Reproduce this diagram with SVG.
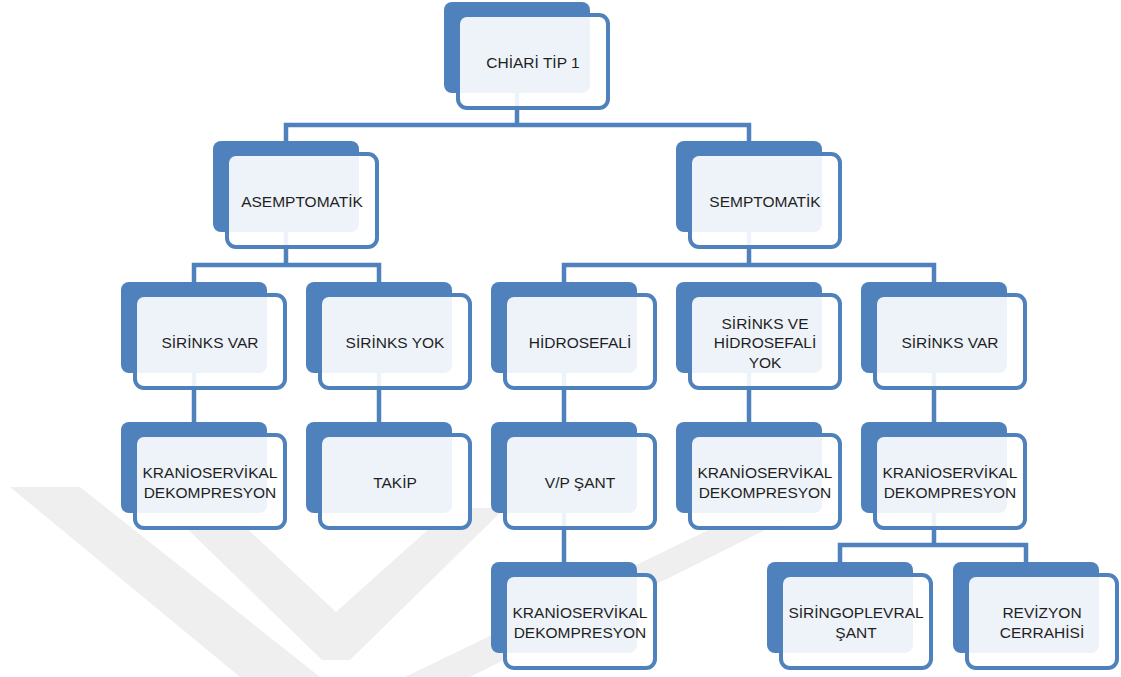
<svg xmlns="http://www.w3.org/2000/svg" width="1121" height="677" viewBox="0 0 1121 677">
<style>
.bk{fill:#4F81BD}
.fr{fill:#ffffff;fill-opacity:0.9;stroke:#4F81BD;stroke-width:4}
.t{font-family:"Liberation Sans",Arial,sans-serif;font-size:15.5px;fill:#1f1f1f;text-anchor:middle;dominant-baseline:central}
.c{fill:none;stroke:#4F81BD;stroke-width:4.5;stroke-linejoin:miter}
.wm{fill:#efefef}
</style>
<rect width="1121" height="677" fill="#ffffff"/>
<g id="watermark">
<polygon class="wm" points="10,487 80,487 320,677 240,677"/>
<polygon class="wm" points="178,520 238,520 336,612 452,508 505,508 350,660 322,660"/>
<polygon class="wm" points="405,677 470,677 815,505 760,505"/>
</g>
<g id="connectors">
<path class="c" d="M517,93 V125 M286,141 V125 H749 V141"/>
<path class="c" d="M286,232 V265 M194,282 V265 H379 V282"/>
<path class="c" d="M749,232 V265 M564,282 V265 H934 V282"/>
<path class="c" d="M194,373 V422 M379,373 V422 M564,373 V422 M749,373 V422 M934,373 V422"/>
<path class="c" d="M564,513 V562"/>
<path class="c" d="M934,513 V545 M840,562 V545 H1026 V562"/>
</g>
<g id="n-chiari"><rect class="bk" x="444" y="2" width="146" height="91" rx="8"/><rect class="fr" x="458" y="15" width="150" height="93" rx="9"/><text class="t" x="533" y="62">CHİARİ TİP 1</text></g>
<g id="n-asemptomatik"><rect class="bk" x="213" y="141" width="146" height="91" rx="8"/><rect class="fr" x="227" y="154" width="150" height="93" rx="9"/><text class="t" x="302" y="201">ASEMPTOMATİK</text></g>
<g id="n-semptomatik"><rect class="bk" x="676" y="141" width="146" height="91" rx="8"/><rect class="fr" x="690" y="154" width="150" height="93" rx="9"/><text class="t" x="765" y="201">SEMPTOMATİK</text></g>
<g id="n-sirinks-var-1"><rect class="bk" x="121" y="282" width="146" height="91" rx="8"/><rect class="fr" x="135" y="295" width="150" height="93" rx="9"/><text class="t" x="210" y="342">SİRİNKS VAR</text></g>
<g id="n-sirinks-yok"><rect class="bk" x="306" y="282" width="146" height="91" rx="8"/><rect class="fr" x="320" y="295" width="150" height="93" rx="9"/><text class="t" x="395" y="342">SİRİNKS YOK</text></g>
<g id="n-hidrosefali"><rect class="bk" x="491" y="282" width="146" height="91" rx="8"/><rect class="fr" x="505" y="295" width="150" height="93" rx="9"/><text class="t" x="580" y="342">HİDROSEFALİ</text></g>
<g id="n-sirinks-ve-hidrosefali-yok"><rect class="bk" x="676" y="282" width="146" height="91" rx="8"/><rect class="fr" x="690" y="295" width="150" height="93" rx="9"/><text class="t" x="765" y="323">SİRİNKS VE</text><text class="t" x="765" y="342.5">HİDROSEFALİ</text><text class="t" x="765" y="362">YOK</text></g>
<g id="n-sirinks-var-2"><rect class="bk" x="861" y="282" width="146" height="91" rx="8"/><rect class="fr" x="875" y="295" width="150" height="93" rx="9"/><text class="t" x="950" y="342">SİRİNKS VAR</text></g>
<g id="n-kranio-1"><rect class="bk" x="121" y="422" width="146" height="91" rx="8"/><rect class="fr" x="135" y="435" width="150" height="93" rx="9"/><text class="t" x="210" y="472">KRANİOSERVİKAL</text><text class="t" x="210" y="492">DEKOMPRESYON</text></g>
<g id="n-takip"><rect class="bk" x="306" y="422" width="146" height="91" rx="8"/><rect class="fr" x="320" y="435" width="150" height="93" rx="9"/><text class="t" x="395" y="482">TAKİP</text></g>
<g id="n-vp-sant"><rect class="bk" x="491" y="422" width="146" height="91" rx="8"/><rect class="fr" x="505" y="435" width="150" height="93" rx="9"/><text class="t" x="580" y="482">V/P ŞANT</text></g>
<g id="n-kranio-2"><rect class="bk" x="676" y="422" width="146" height="91" rx="8"/><rect class="fr" x="690" y="435" width="150" height="93" rx="9"/><text class="t" x="765" y="472">KRANİOSERVİKAL</text><text class="t" x="765" y="492">DEKOMPRESYON</text></g>
<g id="n-kranio-3"><rect class="bk" x="861" y="422" width="146" height="91" rx="8"/><rect class="fr" x="875" y="435" width="150" height="93" rx="9"/><text class="t" x="950" y="472">KRANİOSERVİKAL</text><text class="t" x="950" y="492">DEKOMPRESYON</text></g>
<g id="n-kranio-4"><rect class="bk" x="491" y="562" width="146" height="91" rx="8"/><rect class="fr" x="505" y="575" width="150" height="93" rx="9"/><text class="t" x="580" y="612">KRANİOSERVİKAL</text><text class="t" x="580" y="632">DEKOMPRESYON</text></g>
<g id="n-siringoplevral"><rect class="bk" x="767" y="562" width="146" height="91" rx="8"/><rect class="fr" x="781" y="575" width="150" height="93" rx="9"/><text class="t" x="856" y="612">SİRİNGOPLEVRAL</text><text class="t" x="856" y="632">ŞANT</text></g>
<g id="n-revizyon"><rect class="bk" x="953" y="562" width="146" height="91" rx="8"/><rect class="fr" x="967" y="575" width="150" height="93" rx="9"/><text class="t" x="1042" y="612">REVİZYON</text><text class="t" x="1042" y="632">CERRAHİSİ</text></g>
</svg>
